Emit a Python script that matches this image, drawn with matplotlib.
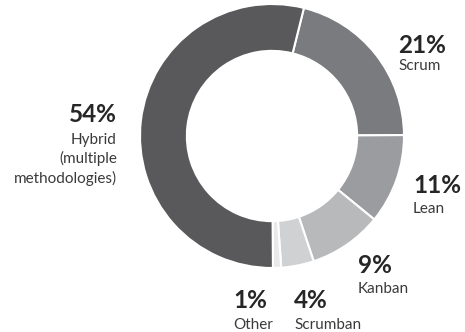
import matplotlib
matplotlib.use('Agg')
import matplotlib.pyplot as plt

# Share of respondents by methodology (clockwise from top)
methods = ['Scrum', 'Lean', 'Kanban', 'Scrumban', 'Other', 'Hybrid\n(multiple\nmethodologies)']
shares = [21, 11, 9, 4, 1, 54]
colors = ['#7a7b7f', '#9b9c9f', '#b8b9bb', '#d0d1d2', '#e9e9ea', '#59595b']

# label anchors in pixels: x, percent baseline, name baseline, alignment
label_pos = [(398, 53, 70, 'left'), (413, 193, 213, 'left'), (358, 273, 293, 'left'),
             (294, 308, 329, 'left'), (233, 308, 329, 'left'), (117, 122, 143.5, 'right')]

W, H = 465, 332
fig = plt.figure(figsize=(W / 100, H / 100), dpi=100)
plt.rcParams['font.family'] = ['Lato', 'DejaVu Sans']

# donut axes: center (272, 136), radius 132 px
cx, cy, r = 272, 136, 132
ax = fig.add_axes([(cx - r) / W, (H - cy - r) / H, 2 * r / W, 2 * r / H])
ax.pie(shares, colors=colors, startangle=76, counterclock=False, radius=1,
       wedgeprops=dict(width=0.355, edgecolor='white', linewidth=1.5))
ax.set_xlim(-1, 1)
ax.set_ylim(-1, 1)
ax.set_aspect('equal')
ax.axis('off')

for name, val, (x, y, y2, ha) in zip(methods, shares, label_pos):
    fig.text(x / W, 1 - y / H, f'{val}%', ha=ha, va='baseline',
             fontsize=17.5, fontweight='bold', color='#262626')
    # one text per line so the 20 px line step matches
    for i, line in enumerate(name.split('\n')):
        fig.text(x / W, 1 - (y2 + 20 * i) / H, line, ha=ha, va='baseline',
                 fontsize=11, color='#3a3a3a')

fig.savefig('out.png', dpi=100)
